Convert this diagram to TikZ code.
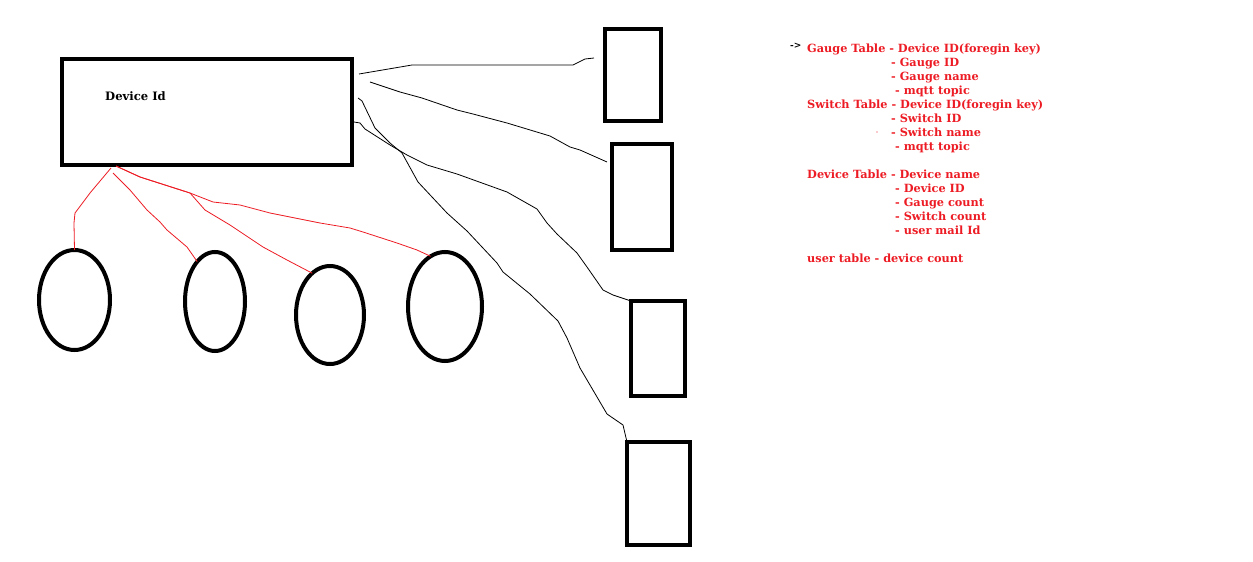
\documentclass[tikz,border=0pt]{standalone}
\usepackage{fontspec}
\setmainfont{DejaVu Serif}
\usetikzlibrary{shapes.geometric}
\definecolor{paintred}{RGB}{237,28,36}
\begin{document}
\begin{tikzpicture}[x=1pt,y=-1pt,
  box/.style={draw,line width=4pt,inner sep=0,outer sep=0},
  oval/.style={ellipse,draw,line width=4pt,inner sep=0,outer sep=0},
  wire/.style={line width=0.8pt},
  redwire/.style={draw=paintred,line width=0.8pt},
  note/.style={anchor=base west,inner sep=0,text=paintred,font=\fontsize{11.3}{13}\selectfont\bfseries}]
\useasboundingbox[fill=white] (0,0) rectangle (1253,562);

% device box and the oval children
\node[box,minimum width=290pt,minimum height=106pt] (dev) at (207,112) {};
\node[anchor=base west,inner sep=0,font=\fontsize{11.6}{13}\selectfont\bfseries] (devlbl) at (105,100.5) {Device Id};
\node[oval,minimum width=71pt,minimum height=100pt] (g1) at (74.5,300) {};
\node[oval,minimum width=60pt,minimum height=99pt] (g2) at (215,301.5) {};
\node[oval,minimum width=68pt,minimum height=98pt] (g3) at (330,315) {};
\node[oval,minimum width=74pt,minimum height=109pt] (g4) at (445,306.5) {};

% tables on the right
\node[box,minimum width=56pt,minimum height=92pt] (r1) at (633,75) {};
\node[box,minimum width=60pt,minimum height=106pt] (r2) at (642,197) {};
\node[box,minimum width=54pt,minimum height=95pt] (r3) at (658,348.5) {};
\node[box,minimum width=63pt,minimum height=103pt] (r4) at (658.5,493.5) {};

% red links
\coordinate (hubA) at (111,168);
\coordinate (hubB) at (113,173);
\coordinate (hubC) at (116,166);
\draw[redwire] (hubA) -- (90,193) -- (75,213) -- (74,223) -- (g1.north);
\draw[redwire] (hubB) -- (130,190) -- (147,210) -- (160,222) -- (167,230) -- (187,247) -- (g2.114);
\draw[redwire] (hubC) -- (140,177) -- (190,193) -- (205,210) -- (230,225) -- (263,247) -- (287,260) -- (g3.113);
\draw[redwire] (hubC) -- (140,177) -- (190,193) -- (213,202) -- (240,205) -- (270,213) -- (320,223) -- (350,228) -- (363,232) -- (397,243) -- (417,250) -- (g4.106);

% black links
\coordinate (s1) at (359,74);
\coordinate (s2) at (370,82);
\coordinate (s3) at (354,122);
\coordinate (s4) at (358,98);
\coordinate (e1) at (594,58);
\coordinate (e2) at (607,162);
\draw[wire] (s1) -- (412,65) -- (573,65) -- (585,59) -- (e1);
\draw[wire] (s2) -- (400,92) -- (422,98) -- (457,110) -- (473,114) -- (507,123) -- (550,136) -- (570,147) -- (580,150) -- (e2);
\draw[wire] (s3) -- (360,123) -- (365,129) -- (390,145) -- (407,155) -- (427,165) -- (457,174) -- (507,192) -- (537,209) -- (547,223) -- (557,234) -- (577,253) -- (587,267) -- (603,290) -- (613,295) -- (r3.north west);
\draw[wire] (s4) -- (362,101) -- (375,128) -- (390,143) -- (402,153) -- (418,182) -- (447,213) -- (467,231) -- (497,263) -- (503,272) -- (530,294) -- (558,321) -- (567,338) -- (580,368) -- (607,414) -- (623,425) -- (r4.north west);

% table notes
\node[anchor=base west,inner sep=0,font=\fontsize{9}{10}\selectfont\bfseries] (arr) at (790,48.5) {->};
\node[note] (t1) at (807,52) {Gauge Table - Device ID(foregin key)};
\node[note] (t2) at (891,66) {- Gauge ID};
\node[note] (t3) at (891,80) {- Gauge name};
\node[note] (t4) at (895,94) {- mqtt topic};
\node[note] (t5) at (807,108) {Switch Table - Device ID(foregin key)};
\node[note] (t6) at (891,122) {- Switch ID};
\fill[paintred] (877,132) circle (0.6);
\node[note] (t7) at (891,136) {- Switch name};
\node[note] (t8) at (895,150) {- mqtt topic};
\node[note] (t9) at (807,178) {Device Table - Device name};
\node[note] (t10) at (895,192) {- Device ID};
\node[note] (t11) at (895,206) {- Gauge count};
\node[note] (t12) at (895,220) {- Switch count};
\node[note] (t13) at (895,234) {- user mail Id};
\node[note] (t14) at (807,262) {user table - device count};
\end{tikzpicture}
\end{document}
